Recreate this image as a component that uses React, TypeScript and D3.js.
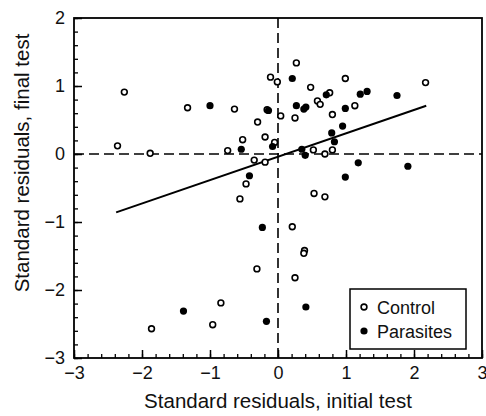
import React, { useRef, useEffect } from 'react';
import * as d3 from 'd3';

// standard residuals [initial, final]
const controlPoints: [number, number][] = [
  [-0.11, 1.13], [-0.01, 1.06], [-2.26, 0.91], [-1.33, 0.68], [-0.64, 0.66],
  [-0.16, 0.65], [-0.30, 0.47], [-0.52, 0.21], [-0.19, 0.25], [-2.36, 0.12],
  [-1.88, 0.01], [-0.74, 0.05], [-0.05, 0.17], [-0.35, -0.09], [-0.19, -0.12],
  [0.27, 1.34], [0.99, 1.11], [2.17, 1.05], [0.48, 0.98], [0.76, 0.90],
  [0.58, 0.78], [0.62, 0.73], [1.13, 0.71], [0.04, 0.56], [0.25, 0.53],
  [0.80, 0.58], [0.52, 0.06], [0.69, 0.0], [0.80, 0.06], [-0.47, -0.44],
  [-0.56, -0.66], [-0.31, -1.69], [-0.84, -2.19], [-0.96, -2.51], [-1.86, -2.57],
  [0.53, -0.58], [0.69, -0.63], [0.21, -1.07], [0.39, -1.42], [0.38, -1.46],
  [0.25, -1.82]
];

const parasitePoints: [number, number][] = [
  [-1.0, 0.71], [-0.14, 0.64], [-0.54, 0.07], [-0.08, 0.11], [0.21, 1.11],
  [0.71, 0.87], [1.21, 0.88], [1.31, 0.92], [1.75, 0.86], [0.27, 0.71],
  [0.38, 0.66], [0.41, 0.69], [0.99, 0.67], [0.95, 0.41], [0.79, 0.31],
  [0.83, 0.18], [0.35, 0.07], [0.40, -0.02], [1.18, -0.13], [1.91, -0.18],
  [-0.42, -0.32], [-0.23, -1.08], [-1.39, -2.31], [-0.17, -2.46], [0.99, -0.34],
  [0.41, -2.25]
];

// fitted line: final = slope * initial + intercept
const fitSlope = 0.344;
const fitIntercept = -0.04;
const fitRange = [-2.38, 2.18];

const xTicks = [-3, -2, -1, 0, 1, 2, 3];
const yTicks = [-3, -2, -1, 0, 1, 2];
const legendItems = [
  { label: 'Control', filled: false },
  { label: 'Parasites', filled: true }
];

const W = 486, H = 416;
const FONT = '"Liberation Sans", Arial, Helvetica, sans-serif';

export default function App() {
  const ref = useRef<SVGSVGElement>(null);

  useEffect(() => {
    document.body.style.margin = '0';
    const svg = d3.select(ref.current);
    svg.selectAll('*').remove();

    const left = 74, right = 482, top = 18, bottom = 358;
    const x = d3.scaleLinear().domain([-3, 3]).range([left, right]);
    const y = d3.scaleLinear().domain([-3, 2]).range([bottom, top]);
    const fmt = (d: any) => (d < 0 ? '\u2212' + Math.abs(d) : String(d));

    // minor ticks
    svg.append('g')
      .attr('transform', `translate(0,${bottom})`)
      .call(d3.axisBottom(x).tickValues(d3.range(-30, 31, 2).map(v => v / 10)).tickSize(-4).tickFormat(() => ''))
      .call(g => g.select('.domain').remove())
      .selectAll('line').attr('stroke-width', 1.3);
    svg.append('g')
      .attr('transform', `translate(${left},0)`)
      .call(d3.axisLeft(y).tickValues(d3.range(-30, 21, 2).map(v => v / 10)).tickSize(-4).tickFormat(() => ''))
      .call(g => g.select('.domain').remove())
      .selectAll('line').attr('stroke-width', 1.3);

    // major ticks + labels
    const xa = svg.append('g')
      .attr('transform', `translate(0,${bottom})`)
      .call(d3.axisBottom(x).tickValues(xTicks).tickSize(-8).tickPadding(8).tickFormat(fmt));
    xa.select('.domain').remove();
    xa.selectAll('line').attr('stroke-width', 1.5);
    xa.selectAll('text').attr('font-size', 18).attr('font-family', FONT).attr('fill', '#111');

    const ya = svg.append('g')
      .attr('transform', `translate(${left},0)`)
      .call(d3.axisLeft(y).tickValues(yTicks).tickSize(-8).tickPadding(9).tickFormat(fmt));
    ya.select('.domain').remove();
    ya.selectAll('line').attr('stroke-width', 1.5);
    ya.selectAll('text').attr('font-size', 18).attr('font-family', FONT).attr('fill', '#111');

    // frame
    svg.append('rect')
      .attr('x', left).attr('y', top)
      .attr('width', right - left).attr('height', bottom - top)
      .attr('fill', 'none').attr('stroke', '#000').attr('stroke-width', 1.8);

    // zero lines
    svg.append('line')
      .attr('x1', x(0)).attr('x2', x(0)).attr('y1', top).attr('y2', bottom)
      .attr('stroke', '#000').attr('stroke-width', 1.6).attr('stroke-dasharray', '10,5');
    svg.append('line')
      .attr('x1', left).attr('x2', right).attr('y1', y(0)).attr('y2', y(0))
      .attr('stroke', '#000').attr('stroke-width', 1.6).attr('stroke-dasharray', '10,5');

    // fitted line
    const line = d3.line<number>().x(d => x(d)).y(d => y(fitSlope * d + fitIntercept));
    svg.append('path')
      .attr('d', line(fitRange))
      .attr('fill', 'none').attr('stroke', '#000').attr('stroke-width', 2);

    // points
    svg.append('g').selectAll('circle')
      .data(controlPoints)
      .enter().append('circle')
      .attr('cx', d => x(d[0])).attr('cy', d => y(d[1]))
      .attr('r', 2.9).attr('fill', '#fff').attr('stroke', '#000').attr('stroke-width', 1.6);
    svg.append('g').selectAll('circle')
      .data(parasitePoints)
      .enter().append('circle')
      .attr('cx', d => x(d[0])).attr('cy', d => y(d[1]))
      .attr('r', 3.6).attr('fill', '#000');

    // legend
    const lg = svg.append('g').attr('transform', 'translate(350,289)');
    lg.append('rect')
      .attr('width', 116).attr('height', 60)
      .attr('fill', '#fff').attr('stroke', '#000').attr('stroke-width', 1.5);
    legendItems.forEach((it, i) => {
      const cy = 18 + i * 24;
      lg.append('circle')
        .attr('cx', 14).attr('cy', cy)
        .attr('r', it.filled ? 3.6 : 2.9)
        .attr('fill', it.filled ? '#000' : '#fff')
        .attr('stroke', '#000').attr('stroke-width', it.filled ? 0 : 1.6);
      lg.append('text')
        .attr('x', 27).attr('y', cy + 6.5)
        .attr('font-size', 18).attr('font-family', FONT).attr('fill', '#111')
        .text(it.label);
    });

    // axis titles
    svg.append('text')
      .attr('x', (left + right) / 2).attr('y', 408)
      .attr('text-anchor', 'middle')
      .attr('font-size', 20.5).attr('font-family', FONT).attr('fill', '#111')
      .text('Standard residuals, initial test');
    svg.append('text')
      .attr('transform', 'translate(29,163) rotate(-90)')
      .attr('text-anchor', 'middle')
      .attr('font-size', 20.5).attr('font-family', FONT).attr('fill', '#111')
      .text('Standard residuals, final test');
  }, []);

  return <svg ref={ref} width={W} height={H} style={{ display: 'block', background: '#fff' }} />;
}
